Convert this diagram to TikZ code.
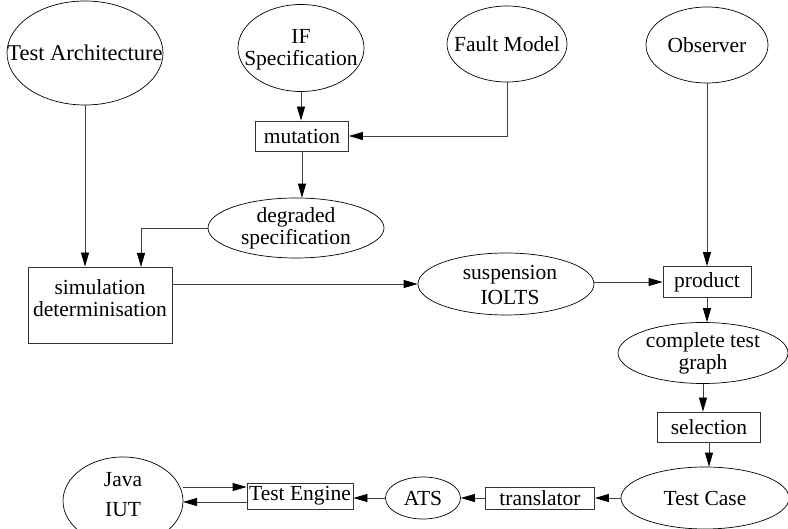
\documentclass[tikz,border=0pt]{standalone}
\usepackage{fontspec}
\setmainfont{Liberation Serif}
\usetikzlibrary{shapes.geometric,arrows.meta,calc}
\begin{document}
\begin{tikzpicture}[x=1pt,y=1pt,
  every node/.style={font=\fontsize{21.5}{22}\selectfont, inner sep=0pt},
  ell/.style={draw, ellipse, line width=0.7pt},
  boxn/.style={draw=black!80, rectangle, line width=0.8pt, align=center},
  txt/.style={align=center},
  arr/.style={draw=black!75, line width=0.8pt, -{Triangle[length=14pt,width=8pt,fill=black,color=black]}},
  ln/.style={draw=black!75, line width=0.8pt}]
\useasboundingbox (0,0) rectangle (788,-529);
% ellipses (shapes) and their texts
\node[ell, minimum width=156, minimum height=104] (ta) at (85,-53) {};
\node[txt, font=\fontsize{22.5}{22}\selectfont] (tat) at (85,-53) {Test Architecture};
\node[ell, minimum width=126, minimum height=87] (ifs) at (301,-48) {};
\node[txt] (ifst) at (301,-50) {IF\\Specification};
\node[ell, minimum width=120, minimum height=76] (fm) at (507,-44) {};
\node[txt] (fmt) at (507,-44) {Fault Model};
\node[ell, minimum width=122, minimum height=76] (obs) at (707,-45) {};
\node[txt] (obst) at (707,-45) {Observer};
\node[boxn, minimum width=93, minimum height=30] (mut) at (302,-136) {mutation};
\node[ell, minimum width=176, minimum height=60] (deg) at (296,-228) {};
\node[txt] (degt) at (296,-228) {degraded\\specification};
\node[boxn, minimum width=144, minimum height=76] (sim) at (100,-305) {};
\node[txt] (simt) at (100,-298) {simulation\\determinisation};
\node[ell, minimum width=176, minimum height=62] (susp) at (506,-284) {};
\node[txt, font=\fontsize{21.5}{25}\selectfont] (suspt) at (510,-285) {suspension\\IOLTS};
\node[boxn, minimum width=88, minimum height=31] (prod) at (707,-282) {product};
\node[ell, minimum width=170, minimum height=61] (ctg) at (703,-353) {};
\node[txt] (ctgt) at (703,-353) {complete test\\graph};
\node[boxn, minimum width=103, minimum height=30] (sel) at (709,-427) {selection};
\node[ell, minimum width=168, minimum height=62] (tc) at (705,-498) {};
\node[txt] (tct) at (705,-498) {Test Case};
\node[boxn, minimum width=109, minimum height=22] (trans) at (540,-498) {translator};
\node[ell, minimum width=75, minimum height=42] (ats) at (423,-498) {};
\node[txt] (atst) at (423,-498) {ATS};
\node[boxn, minimum width=106, minimum height=26] (te) at (300,-496) {Test Engine};
\node[ell, minimum width=120, minimum height=88] (java) at (123,-501) {};
\node[txt, font=\fontsize{21.5}{30}\selectfont] (javat) at (123,-495) {Java\\IUT};
% coordinates
\coordinate (simin) at (141,-267);
\coordinate (j1) at (183,-487);
\coordinate (j2) at (183,-502);
% connectors
\draw[arr] (ta.south) -- (ta.south |- sim.north);
\draw[arr] (ifs.south) -- (ifs.south |- mut.north);
\draw[arr] (fm.south) |- (mut.east);
\draw[arr] (mut.south) -- (mut.south |- deg.north);
\draw[arr] (deg.west) -| (simin);
\draw[arr] (sim.east |- susp.west) -- (susp.west);
\draw[arr] (susp.east |- prod.west) -- (prod.west);
\draw[arr] (obs.south) -- (obs.south |- prod.north);
\draw[arr] (prod.south) -- (prod.south |- ctg.north);
\draw[arr] (ctg.south) -- (ctg.south |- sel.north);
\draw[arr] (sel.south) -- (sel.south |- tc.north);
\draw[arr] (tc.west) -- (trans.east);
\draw[arr] (trans.west) -- (ats.east);
\draw[arr] (ats.west) -- (te.east |- ats.west);
\draw[arr] (j1) -- (j1 -| te.west);
\draw[arr] (te.west |- j2) -- (j2);
\end{tikzpicture}
\end{document}
